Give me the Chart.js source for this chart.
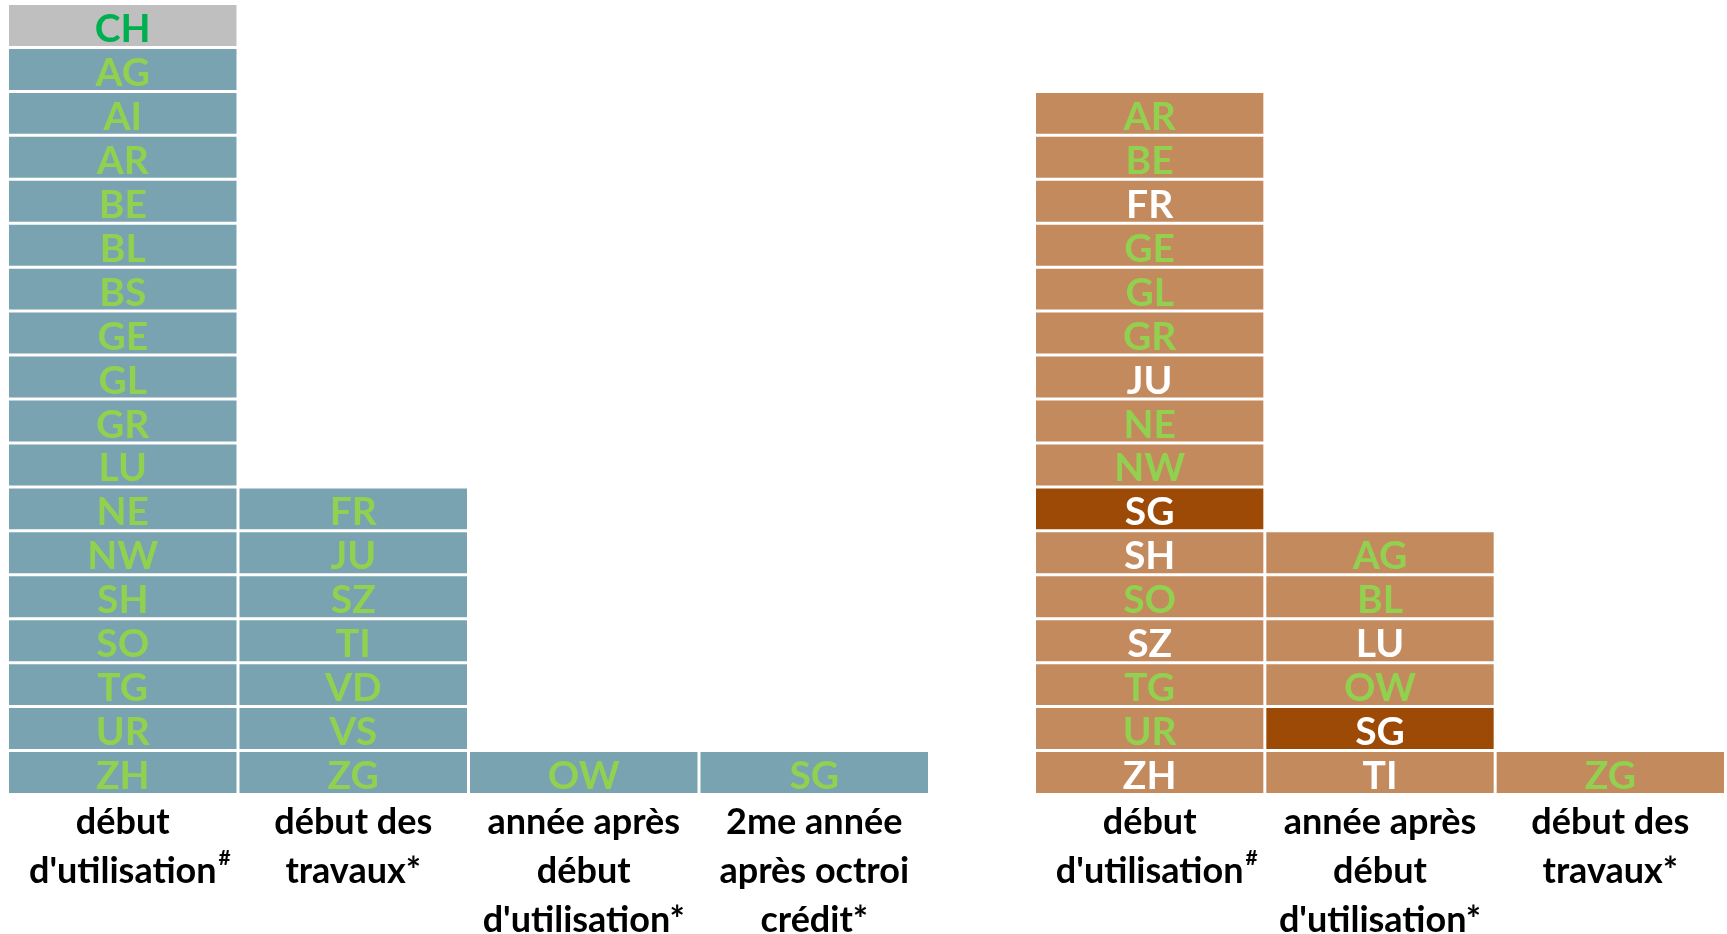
<!DOCTYPE html>
<html>
<head>
<meta charset="utf-8">
<script src="https://cdn.jsdelivr.net/npm/chart.js@4"></script>
<style>
  html, body { margin: 0; padding: 0; background: #ffffff; }
  body { width: 1727px; height: 934px; position: relative; overflow: hidden; }
  canvas { position: absolute; top: 0; }
  #leftChart { left: 0px; }
  #rightChart { left: 1030px; }
</style>
</head>
<body>
<canvas id="leftChart" width="935" height="934"></canvas>
<canvas id="rightChart" width="697" height="934"></canvas>
<script>
// ---------------- data ----------------
const leftCategories = [
  ["début", "d'utilisation"],
  ["début des", "travaux*"],
  ["année après", "début", "d'utilisation*"],
  ["2me année", "après octroi", "crédit*"]
];
// cantons per column, listed top to bottom
const leftCol1 = ["CH","AG","AI","AR","BE","BL","BS","GE","GL","GR","LU","NE","NW","SH","SO","TG","UR","ZH"];
const leftCol2 = ["FR","JU","SZ","TI","VD","VS","ZG"];
const leftCol3 = ["OW"];
const leftCol4 = ["SG"];
const leftSuperscripts = ["#", "", "", ""];

const rightCategories = [
  ["début", "d'utilisation"],
  ["année après", "début", "d'utilisation*"],
  ["début des", "travaux*"]
];
const rightCol1 = ["AR","BE","FR","GE","GL","GR","JU","NE","NW","SG","SH","SO","SZ","TG","UR","ZH"];
const rightCol2 = ["AG","BL","LU","OW","SG","TI"];
const rightCol3 = ["ZG"];
const rightSuperscripts = ["#", "", ""];

// label categories (which cantons are written in white / highlighted)
const rightWhiteLabels = [["FR","JU","SG","SH","SZ","ZH"], ["LU","SG","TI"], []];
const rightHighlighted = [["SG"], ["SG"], []];
const leftTotal = ["CH"];

const maxCells = 18;

// ---------------- colours ----------------
const BLUE = "#79a3b0";
const GREY = "#bfbfbf";
const BROWN = "#c38a5e";
const DARK_BROWN = "#9c4a06";
const GREEN = "#92d050";
const DARK_GREEN = "#00b050";
const WHITE = "#ffffff";

const CELL_FONT = "bold 39px Lato";
const TICK_FONT = { family: "Lato", size: 36, weight: "bold", lineHeight: 1.361 };

function buildDatasets(columns, bgFn, txtFn) {
  const datasets = [];
  for (let k = 0; k < maxCells; k++) {
    const data = [], bg = [], names = [], txt = [];
    columns.forEach((col, c) => {
      if (k < col.length) {
        const name = col[col.length - 1 - k];
        data.push(1);
        names.push(name);
        bg.push(bgFn(name, c));
        txt.push(txtFn(name, c));
      } else {
        data.push(null);
        names.push("");
        bg.push("rgba(0,0,0,0)");
        txt.push("rgba(0,0,0,0)");
      }
    });
    datasets.push({
      label: "niveau " + (k + 1),
      data: data,
      cellNames: names,
      cellTextColors: txt,
      backgroundColor: bg,
      borderColor: WHITE,
      borderWidth: 1.5,
      borderSkipped: false,
      inflateAmount: 0,
      barPercentage: 1,
      categoryPercentage: 1
    });
  }
  return datasets;
}

const cellLabelPlugin = {
  id: "cellLabels",
  afterDatasetsDraw(chart) {
    const ctx = chart.ctx;
    ctx.save();
    ctx.font = CELL_FONT;
    ctx.textAlign = "center";
    ctx.textBaseline = "middle";
    chart.data.datasets.forEach((ds, i) => {
      const meta = chart.getDatasetMeta(i);
      meta.data.forEach((bar, j) => {
        const name = ds.cellNames[j];
        if (!name) return;
        const p = bar.getProps(["x", "y", "base"], true);
        ctx.fillStyle = ds.cellTextColors[j];
        ctx.fillText(name, p.x, (p.y + p.base) / 2 + 4);
      });
    });
    ctx.restore();
  }
};

const superscriptPlugin = {
  id: "supers",
  afterDraw(chart, args, opts) {
    const sups = opts.marks || [];
    const scale = chart.scales.x;
    const ctx = chart.ctx;
    ctx.save();
    sups.forEach((s, i) => {
      if (!s) return;
      const lines = chart.data.labels[i];
      const last = lines[lines.length - 1];
      ctx.font = "bold " + TICK_FONT.size + "px Lato";
      const w = ctx.measureText(last).width;
      const x = scale.getPixelForTick(i) + w / 2 + 2;
      const lh = TICK_FONT.size * TICK_FONT.lineHeight;
      const y = scale.top + 3 + lh * (lines.length - 1) + lh / 2 - 13;
      ctx.font = "bold 21px Lato";
      ctx.fillStyle = "#000000";
      ctx.textAlign = "left";
      ctx.textBaseline = "middle";
      ctx.fillText(s, x, y);
    });
    ctx.restore();
  }
};

function makeChart(id, categories, columns, bgFn, txtFn, padding, sups) {
  return new Chart(document.getElementById(id), {
    type: "bar",
    data: { labels: categories, datasets: buildDatasets(columns, bgFn, txtFn) },
    options: {
      responsive: false,
      animation: false,
      devicePixelRatio: 1,
      layout: { padding: padding },
      plugins: {
        legend: { display: false },
        tooltip: { enabled: false },
        supers: { marks: sups }
      },
      scales: {
        x: {
          stacked: true,
          grid: { display: false, drawTicks: false },
          border: { display: false },
          ticks: {
            color: "#000000",
            font: TICK_FONT,
            padding: 3,
            maxRotation: 0,
            autoSkip: false
          },
          afterFit(scale) { scale.height = 139.5; }
        },
        y: {
          stacked: true,
          display: false,
          min: 0,
          max: maxCells
        }
      }
    },
    plugins: [cellLabelPlugin, superscriptPlugin]
  });
}

makeChart("leftChart", leftCategories, [leftCol1, leftCol2, leftCol3, leftCol4],
  (name) => leftTotal.includes(name) ? GREY : BLUE,
  (name) => leftTotal.includes(name) ? DARK_GREEN : GREEN,
  { left: 7.5, right: 5.5, top: 3.5, bottom: 0 }, leftSuperscripts);

makeChart("rightChart", rightCategories, [rightCol1, rightCol2, rightCol3],
  (name, c) => rightHighlighted[c].includes(name) ? DARK_BROWN : BROWN,
  (name, c) => rightWhiteLabels[c].includes(name) ? WHITE : GREEN,
  { left: 4.5, right: 1.5, top: 3.5, bottom: 0 }, rightSuperscripts);
</script>
</body>
</html>
